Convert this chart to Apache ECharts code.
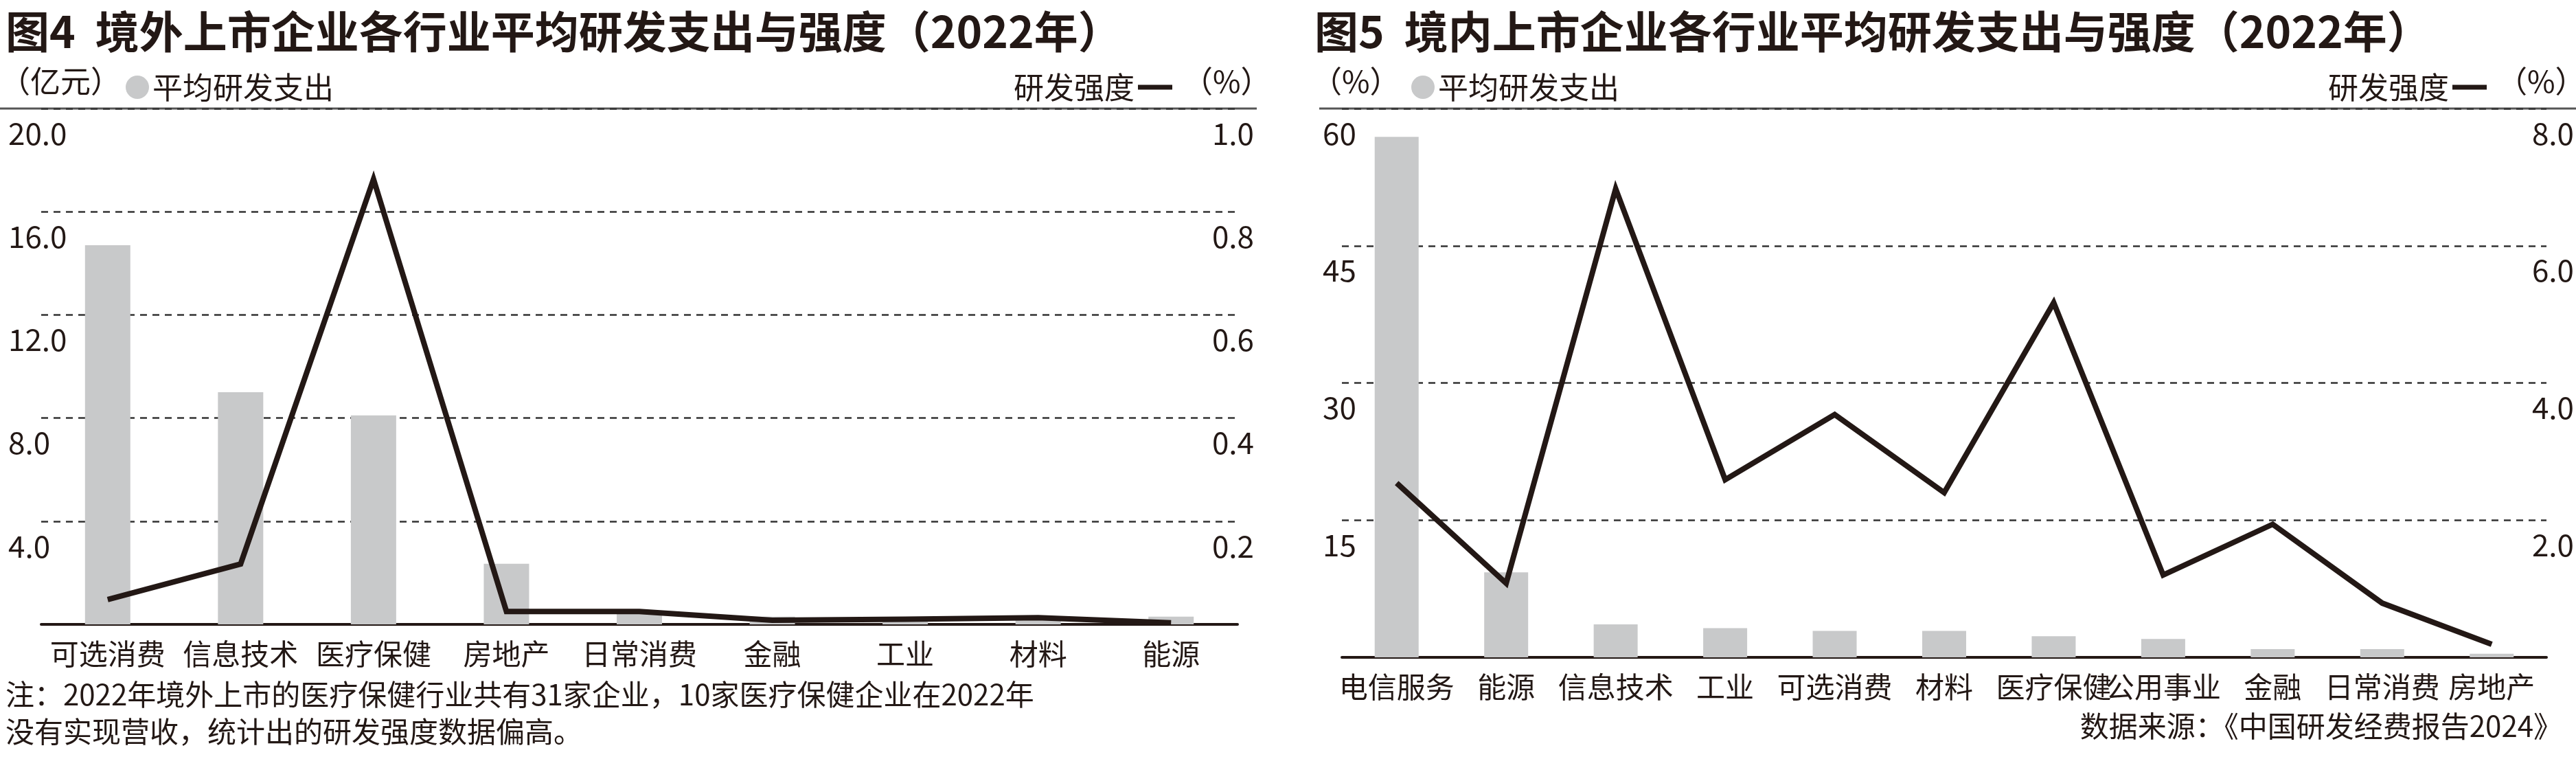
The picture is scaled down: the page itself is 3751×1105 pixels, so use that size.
<!DOCTYPE html>
<html>
<head>
<meta charset="utf-8">
<script src="https://cdn.jsdelivr.net/npm/echarts@6/dist/echarts.min.js"></script>
<style>html,body{margin:0;padding:0;background:#fff}#main{width:3751px;height:1105px}</style>
</head>
<body>
<div id="main"></div>
<script>
// 图4 境外上市
var catsA = ['可选消费', '信息技术', '医疗保健', '房地产', '日常消费', '金融', '工业', '材料', '能源'];
var spendA = [14.7, 9.0, 8.1, 2.35, 0.5, 0.3, 0.25, 0.3, 0.3];
var intensityA = [0.048, 0.117, 0.863, 0.025, 0.025, 0.008, 0.01, 0.013, 0.003];
// 图5 境内上市
var catsB = ['电信服务', '能源', '信息技术', '工业', '可选消费', '材料', '医疗保健', '公用事业', '金融', '日常消费', '房地产'];
var spendB = [56.9, 9.3, 3.6, 3.2, 2.9, 2.9, 2.3, 2.0, 0.9, 0.9, 0.4];
var intensityB = [2.54, 1.08, 6.83, 2.59, 3.54, 2.4, 5.17, 1.2, 1.94, 0.79, 0.19];

var FONT = '"Noto Sans CJK SC", sans-serif';
var NUMFONT = '"Liberation Sans Narrow", "Noto Sans CJK SC", sans-serif';
var INK = '#231815';
var BARC = '#c8c9ca';

var chart = echarts.init(document.getElementById('main'));

function valAxis(grid, pos, min, max, interval, digits, margin) {
    return {
        type: 'value', gridIndex: grid, position: pos, min: min, max: max, interval: interval,
        axisLine: { show: false }, axisTick: { show: false },
        splitLine: pos === 'left' ? { show: true, lineStyle: { color: '#333', type: [10, 8], width: 2.5 } } : { show: false },
        axisLabel: {
            showMinLabel: false, margin: margin, align: pos === 'left' ? 'left' : 'right',
            verticalAlign: 'top', padding: [14, 0, 0, 0],
            fontFamily: NUMFONT, fontSize: 44, color: INK,
            formatter: function (v) { return v.toFixed(digits); }
        }
    };
}
function catAxis(grid, data) {
    return {
        type: 'category', gridIndex: grid, data: data,
        axisLine: { lineStyle: { color: INK, width: 4 } }, axisTick: { show: false },
        axisLabel: { fontFamily: FONT, fontSize: 42, color: INK, margin: 22, interval: 0 }
    };
}

var option = {
    animation: false,
    backgroundColor: '#fff',
    grid: [
        { left: 60, right: 3751 - 1802, top: 158, bottom: 1105 - 909 },
        { left: 1954, right: 3751 - 3708, top: 158, bottom: 1105 - 957 }
    ],
    legend: [
        { data: [{ name: '平均研发支出', icon: 'circle' }], left: 178, top: 100, itemWidth: 34, itemHeight: 34, itemGap: 10,
          textStyle: { fontFamily: FONT, fontSize: 44, color: INK } },
        { data: [{ name: '研发强度', icon: 'rect' }], align: 'right', right: 3751 - 1712, top: 100, itemWidth: 50, itemHeight: 7,
          textStyle: { fontFamily: FONT, fontSize: 44, color: INK } },
        { data: [{ name: '平均研发支出', icon: 'circle' }], left: 2050, top: 100, itemWidth: 34, itemHeight: 34, itemGap: 10,
          textStyle: { fontFamily: FONT, fontSize: 44, color: INK } },
        { data: [{ name: '研发强度', icon: 'rect' }], align: 'right', right: 3751 - 3626, top: 100, itemWidth: 50, itemHeight: 7,
          textStyle: { fontFamily: FONT, fontSize: 44, color: INK } }
    ],
    xAxis: [catAxis(0, catsA), catAxis(1, catsB)],
    yAxis: [
        valAxis(0, 'left', 0, 20, 4, 1, 48),
        valAxis(0, 'right', 0, 1, 0.2, 1, 24),
        valAxis(1, 'left', 0, 60, 15, 0, 28),
        valAxis(1, 'right', 0, 8, 2, 1, 40)
    ],
    series: [
        { name: '平均研发支出', type: 'bar', xAxisIndex: 0, yAxisIndex: 0, data: spendA, barWidth: 66, itemStyle: { color: BARC } },
        { name: '研发强度', type: 'line', xAxisIndex: 0, yAxisIndex: 1, data: intensityA, symbol: 'none',
          lineStyle: { color: INK, width: 8, join: 'miter' }, itemStyle: { color: INK } },
        { name: '平均研发支出', type: 'bar', xAxisIndex: 1, yAxisIndex: 2, data: spendB, barWidth: 64, itemStyle: { color: BARC } },
        { name: '研发强度', type: 'line', xAxisIndex: 1, yAxisIndex: 3, data: intensityB, symbol: 'none',
          lineStyle: { color: INK, width: 8, join: 'miter' }, itemStyle: { color: INK } }
    ],
    graphic: [
        { type: 'text', left: 8, top: 14, style: { text: '图4  境外上市企业各行业平均研发支出与强度（2022年）', font: 'bold 64px ' + FONT, fill: INK } },
        { type: 'text', left: 1914, top: 14, style: { text: '图5  境内上市企业各行业平均研发支出与强度（2022年）', font: 'bold 64px ' + FONT, fill: INK } },
        { type: 'text', left: 0, top: 96, style: { text: '（亿元）', font: '44px ' + FONT, fill: INK } },
        { type: 'text', left: 1910, top: 96, style: { text: '（%）', font: '44px ' + FONT, fill: INK } },
        { type: 'text', left: 1722, top: 96, style: { text: '（%）', font: '44px ' + FONT, fill: INK } },
        { type: 'text', left: 3636, top: 96, style: { text: '（%）', font: '44px ' + FONT, fill: INK } },
        { type: 'line', shape: { x1: 0, y1: 158, x2: 1830, y2: 158 }, style: { stroke: '#555', lineWidth: 3 } },
        { type: 'line', shape: { x1: 1921, y1: 158, x2: 3751, y2: 158 }, style: { stroke: '#555', lineWidth: 3 } },
        { type: 'text', left: 8, top: 984, style: { text: '注：2022年境外上市的医疗保健行业共有31家企业，10家医疗保健企业在2022年\n没有实现营收，统计出的研发强度数据偏高。', font: '42px ' + FONT, fill: INK, lineHeight: 54 } },
        { type: 'text', right: 20, top: 1036, style: { text: '数据来源：《中国研发经费报告2024》', font: '42px ' + FONT, fill: INK } }
    ]
};
chart.setOption(option);
</script>
</body>
</html>
